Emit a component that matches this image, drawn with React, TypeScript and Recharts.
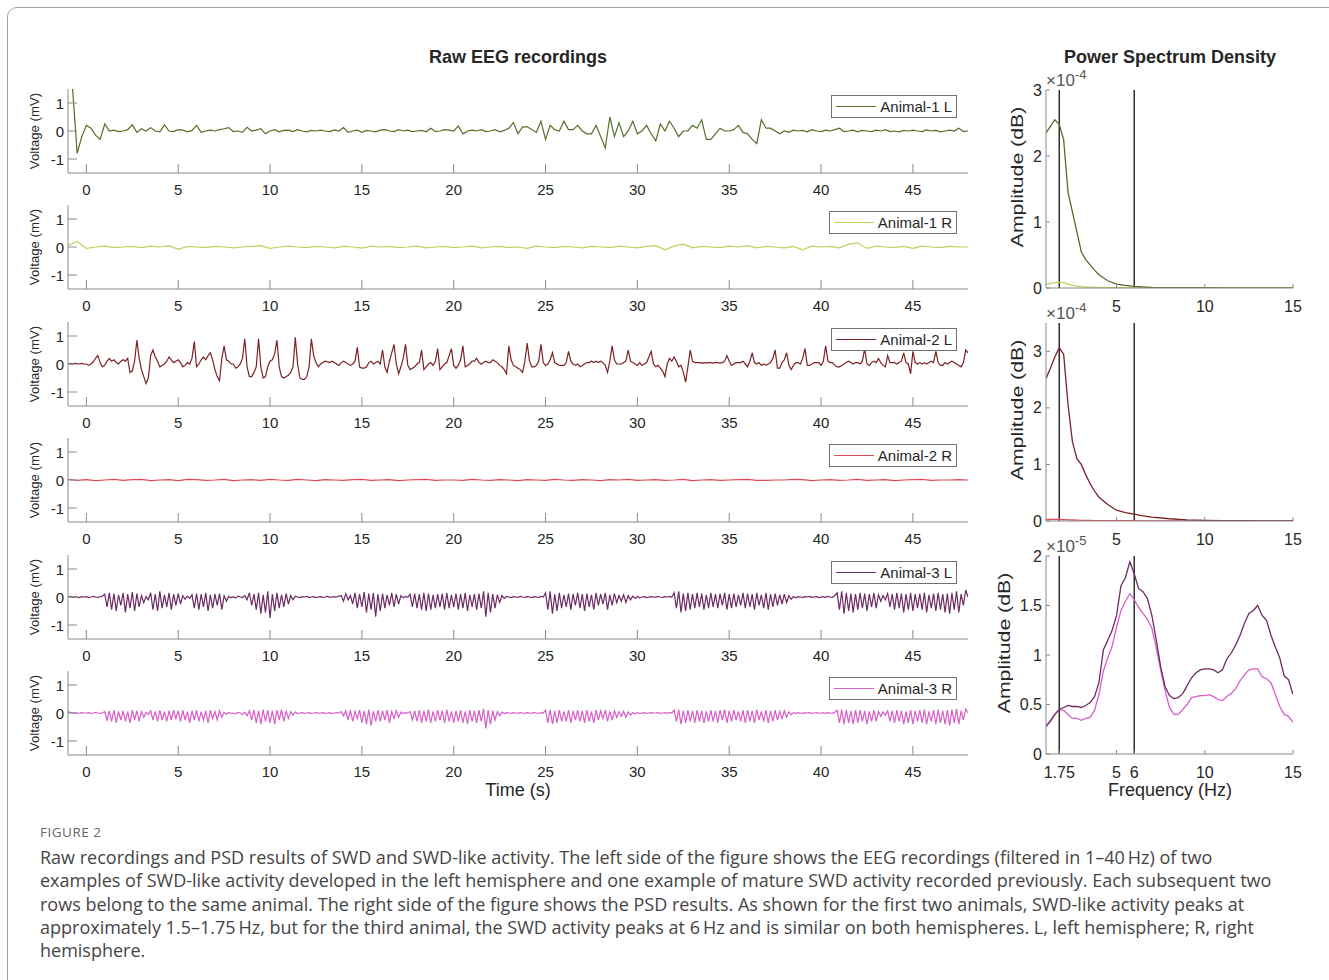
import React from "react";
import { LineChart, Line, XAxis, YAxis, ReferenceLine } from "recharts";

// EEG traces: hundredths of a mV, sampled on a regular grid from t = -1 s
const eegStart = -1;
const eegTicks = [0, 5, 10, 15, 20, 25, 30, 35, 40, 45];
const voltTicks = [-1, 0, 1];

const a1LStep = 0.25;
const a1L = [
  200, 150, -80, -20,
  20, 10, -15, -30,
  25, 0, 3, -2,
  0, 5, 22, -5,
  8, 0, 12, 0,
  -3, 22, 0, -2,
  5, 3, -3, 2,
  20, -5, 0, 3,
  0, 5, 8, 12,
  -2, 0, -5, 13,
  0, 3, 8, -10,
  0, 5, -3, 2,
  3, -2, 5, 0,
  -3, 2, 0, 3,
  0, -2, 4, 0,
  12, -5, 0, 3,
  -5, 2, 0, -3,
  3, 5, 0, -2,
  5, 0, 3, -2,
  0, 2, -3, 10,
  -2, 0, 5, 3,
  0, 18, -10, 0,
  3, 0, 5, -2,
  0, 5, -3, 2,
  10, 30, -10, 15,
  15, 5, -5, 35,
  -30, 20, 5, 0,
  35, 5, 5, 20,
  0, -10, -10, 20,
  -20, -60, 50, -20,
  30, -20, 0, 35,
  -10, 0, 20, -10,
  -35, 25, 0, 35,
  10, -20, 0, 0,
  20, 10, 40, -30,
  -30, -10, 10, 0,
  0, 5, 20, -5,
  -10, -30, -45, 40,
  10, 10, 0, -10,
  0, -5, 3, 0,
  2, -3, 5, 0,
  -2, 3, 0, 5,
  10, -2, 0, 3,
  -3, 2, 0, -2,
  3, 0, 5, -2,
  0, -3, 2, 0,
  3, 0, -2, 4,
  0, 2, -3, 0,
  3, 0, 10, -2,
  0,
];

const a1RStep = 0.5;
const a1R = [
  5, 20, -5, 0, 3, -2, 0, 2, -2, 3,
  0, 5, -8, 2, 0, -2, 2, 0, -3, 0,
  2, 5, -5, 0, 3, 0, -2, 2, 0, -3,
  2, 0, -4, 3, 0, 2, -2, 0, 3, -3,
  0, 2, -2, 0, 3, -3, 0, 2, -2, 0,
  -5, 3, 0, -2, 2, 0, -3, 2, 0, -2,
  3, 0, -3, 2, 5, -10, 3, 10, -3, 2,
  0, -2, 3, 0, 5, -3, 2, 0, -3, 2,
  -10, 3, 0, 2, -3, 10, 15, -5, 3, 0,
  -2, 2, -5, 3, 0, -2, 2, 0, 0,
];

const a2LStep = 0.125;
const a2L = [
  0, 2, 0, 3, 1, 0, 2, 0,
  0, -5, 0, 8, 20, 30, 5, -10,
  -5, 10, 20, 10, 15, 5, 0, 10,
  15, 10, 20, -30, -25, 10, 85, 20,
  -20, -45, -70, -50, 30, 50, 25, 10,
  -10, -5, 0, 10, 25, 15, 5, 10,
  15, 5, -10, -5, 5, 0, 20, 80,
  -10, 0, 15, 25, 15, 30, 40, 15,
  -20, -45, -60, 20, 65, 15, 10, 0,
  0, -15, -10, 0, 20, 90, -10, -45,
  -45, -30, -10, 90, -10, -50, -45, -10,
  10, 15, 35, 85, -10, -45, -50, -45,
  -40, -30, -10, 95, 0, -50, -55, -55,
  -45, -10, 90, 30, 5, -10, 0, 5,
  10, 8, 5, 10, 5, 0, -5, 5,
  10, 5, 0, -5, 0, 10, 60, -10,
  -15, -15, -10, 5, 10, 0, 5, 10,
  0, 50, -10, -30, 10, 40, 70, 0,
  -35, -10, 20, 70, -5, -20, -15, -10,
  0, 5, 50, -20, -10, 0, 5, -5,
  10, 55, -20, -10, 0, 5, 30, 55,
  -5, -15, -5, 15, 65, -10, -5, 0,
  10, 10, 20, 5, 0, 5, 10, 5,
  5, 15, 10, 5, -5, -10, -20, -35,
  65, 15, -5, -10, -15, -20, -30, 10,
  75, 10, -10, -10, -5, 10, 70, 5,
  -5, 0, 15, 40, 5, 0, -5, -5,
  -5, 5, 45, 10, 0, -5, 0, -10,
  -5, 0, 5, 5, 10, 5, 10, 5,
  10, 5, -5, -30, 10, 65, 15, 0,
  0, 0, 5, 10, 50, 10, 5, 0,
  -5, 5, -5, 0, 5, 25, 45, 0,
  -10, -5, -15, -25, -45, 0, 20, 10,
  25, 10, -10, -5, -30, -65, -10, 50,
  10, 5, 5, 5, 3, 5, 3, 5,
  5, 3, 5, 5, 3, 5, 10, 30,
  10, -5, 0, 5, 5, 5, 10, 0,
  -10, 10, 40, 5, 0, 5, -5, 0,
  -5, 0, 5, 20, 50, -15, -15, 5,
  15, 40, -5, -20, -5, 5, 5, 0,
  20, 55, -5, -5, 0, 5, 5, 5,
  -5, 10, 65, 10, 5, 5, -5, -10,
  -10, -5, 0, 5, 10, 5, 0, 5,
  5, 0, 10, 55, 0, -5, 5, 10,
  5, 20, 5, -5, -10, 30, 5, 5,
  5, 0, 5, 10, 40, 5, 0, -35,
  45, 5, 0, 5, 0, 5, 0, 5,
  10, 5, 45, 5, -5, -5, 5, 0,
  5, 10, 5, 0, -5, -10, 5, 50,
  40,
];

const a2RStep = 0.5;
const a2R = [
  2, -1, 1, -2, 0, 2, -1, 1, 2, -2,
  0, 1, -2, 2, 1, -1, 0, 2, -2, 0,
  1, -1, 2, 0, -1, 2, 0, -2, 1, 0,
  -1, 1, 2, -1, 0, 1, -2, 0, 1, 2,
  -1, 0, 0, -1, 2, 0, -1, 1, 0, -2,
  1, 0, -1, 2, 0, -1, 1, 0, -2, 1,
  0, 2, -1, 0, 1, -1, 0, 2, -2, 0,
  1, -1, 0, 1, 2, -1, -1, 0, 0, 2,
  1, -2, 0, 1, -1, 0, 2, -1, 0, 1,
  -2, 0, 1, 2, -1, 0, 0, 1, 0,
];

const a3LStep = 0.125;
const a3L = [
  0, 2, -1, 1, 0, -2, 1, 0,
  1, -1, 0, 2, 0, -1, 1, 3,
  10, -35, 15, -45, 12, -50, 8, -30,
  15, -55, 10, -40, 18, -50, 12, -35,
  5, -20, 2, -10, 15, -45, 10, -50,
  20, -40, 8, -35, 15, -45, 10, -30,
  12, -25, 5, -8, 3, -5, 8, -40,
  12, -45, 10, -35, 15, -50, 8, -40,
  10, -30, 12, -45, 5, -15, 2, -3,
  1, -4, 3, 0, -2, 5, -10, 15,
  -30, 10, -45, 15, -60, 8, -55, 20,
  -75, 10, -50, 15, -40, 8, -35, 12,
  -25, 5, -10, 3, 0, -2, 1, 0,
  2, -1, 0, 1, -2, 0, 1, -1,
  0, 2, -1, 0, 1, 0, 3, 5,
  -15, 12, -10, 5, -25, 15, -40, 10,
  -35, 18, -55, 12, -45, 15, -70, 10,
  -50, 12, -40, 8, -30, 15, -35, 10,
  -25, 5, -3, 2, -1, 10, -35, 12,
  -40, 10, -45, 15, -50, 12, -45, 8,
  -40, 10, -35, 12, -45, 15, -40, 8,
  -35, 12, -45, 10, -40, 15, -50, 8,
  -35, 10, -45, 12, -40, 20, -70, 15,
  -55, 10, -40, 8, -20, 5, -5, 2,
  0, -2, 1, 0, -1, 2, 0, -1,
  1, 0, -2, 1, 0, -1, 2, 0,
  15, -45, 20, -60, 10, -50, 15, -40,
  8, -35, 12, -45, 10, -30, 15, -40,
  10, -50, 12, -35, 8, -45, 15, -30,
  10, -25, 15, -45, 8, -30, 12, -20,
  5, -15, 8, -20, 5, -10, 3, -5,
  2, -3, 0, 1, -2, 0, 1, 0,
  -1, 2, 0, -1, 1, 0, 2, -1,
  15, -40, 20, -55, 12, -50, 15, -45,
  10, -40, 15, -35, 12, -45, 8, -40,
  15, -35, 10, -40, 12, -30, 15, -45,
  10, -40, 12, -35, 8, -30, 15, -40,
  12, -35, 10, -45, 15, -30, 8, -40,
  15, -45, 10, -35, 12, -30, 8, -25,
  10, -20, 5, -8, 2, -3, 1, 0,
  -1, 1, 0, 2, -1, 0, 1, -2,
  0, 1, -1, 2, 0, -1, 5, 15,
  -45, 20, -60, 15, -50, 12, -55, 10,
  -45, 15, -40, 12, -50, 10, -35, 15,
  -40, 8, -15, 5, -10, 12, -35, 10,
  -45, 15, -40, 12, -55, 10, -45, 15,
  -50, 10, -40, 12, -45, 15, -55, 8,
  -40, 12, -50, 15, -45, 10, -55, 12,
  -60, 15, -45, 20, -55, 10, -30, 25,
  0,
];

const a3RStep = 0.125;
const a3R = [
  5, 2, 0, 1, -1, 0, 1, 0,
  0, 1, -1, 0, 2, 0, -1, 1,
  5, -25, 8, -30, 10, -35, 6, -25,
  8, -30, 5, -35, 10, -25, 8, -30,
  5, -15, 2, -5, 8, -25, 6, -30,
  10, -25, 5, -30, 8, -25, 10, -20,
  8, -30, 10, -25, 5, -35, 8, -25,
  10, -30, 5, -25, 8, -35, 10, -20,
  5, -25, 8, -15, 3, -5, 2, -1,
  0, -3, 2, 0, -5, 3, -10, 8,
  -25, 10, -35, 8, -40, 12, -30, 10,
  -35, 8, -40, 10, -25, 12, -30, 8,
  -20, 5, -8, 3, -2, 0, 1, -1,
  0, 1, -1, 0, 2, -1, 0, 1,
  -1, 0, 1, -2, 0, 1, 0, 5,
  -10, 8, -25, 10, -30, 6, -20, 10,
  -35, 8, -40, 12, -45, 6, -30, 10,
  -30, 8, -25, 10, -35, 5, -20, 8,
  -15, 3, -2, 1, 0, 5, -25, 8,
  -30, 10, -35, 8, -30, 12, -35, 6,
  -30, 10, -25, 8, -35, 12, -30, 6,
  -35, 8, -30, 10, -35, 6, -40, 10,
  -30, 8, -35, 10, -30, 15, -55, 10,
  -40, 8, -25, 5, -10, 3, -2, 1,
  0, -1, 1, 0, -1, 2, 0, -1,
  1, 0, -1, 2, 0, -1, 1, 0,
  10, -35, 12, -40, 8, -35, 10, -30,
  6, -30, 10, -35, 8, -25, 10, -30,
  8, -35, 10, -30, 6, -35, 10, -25,
  8, -20, 10, -30, 6, -25, 8, -15,
  5, -12, 6, -15, 4, -8, 2, -3,
  1, -2, 0, 1, -1, 0, 1, 0,
  0, 1, -1, 0, 1, -1, 2, 0,
  10, -30, 12, -40, 8, -35, 10, -30,
  8, -35, 10, -30, 8, -35, 6, -30,
  10, -30, 8, -35, 10, -25, 12, -35,
  8, -30, 10, -25, 6, -30, 10, -35,
  10, -30, 8, -35, 12, -25, 6, -30,
  10, -35, 8, -30, 10, -25, 6, -20,
  8, -15, 4, -6, 2, -2, 1, 0,
  -1, 1, 0, 1, -1, 0, 1, -1,
  0, 1, -1, 1, 0, -1, 3, 10,
  -35, 12, -40, 10, -35, 8, -40, 10,
  -35, 10, -30, 8, -40, 6, -30, 10,
  -30, 6, -12, 4, -8, 8, -30, 8,
  -35, 10, -30, 8, -40, 6, -35, 10,
  -40, 8, -30, 10, -35, 12, -40, 6,
  -30, 10, -40, 12, -35, 8, -40, 10,
  -45, 12, -35, 15, -40, 8, -25, 15,
  0,
];

// Power spectra (display units: x1e-4 for animals 1-2, x1e-5 for animal 3)
const psdFreqA = [1, 1.25, 1.5, 1.75, 2, 2.25, 2.5, 2.75, 3, 3.25, 3.5, 3.75, 4, 4.5, 5, 5.5, 6, 6.5, 7, 8, 9, 10, 11, 12, 13, 14, 15];
const psd1L = [2.35, 2.45, 2.55, 2.48, 2.25, 1.45, 1.15, 0.85, 0.55, 0.43, 0.35, 0.27, 0.2, 0.11, 0.06, 0.04, 0.025, 0.015, 0.01, 0.007, 0.005, 0.004, 0.003, 0.003, 0.002, 0.002, 0.002];
const psd1R = [0.05, 0.07, 0.08, 0.09, 0.08, 0.06, 0.04, 0.03, 0.02, 0.015, 0.012, 0.01, 0.008, 0.006, 0.005, 0.004, 0.003, 0.003, 0.002, 0.002, 0.002, 0.001, 0.001, 0.001, 0.001, 0.001, 0.001];
const psd2L = [2.52, 2.7, 2.9, 3.06, 2.95, 2.05, 1.4, 1.1, 1.0, 0.82, 0.66, 0.53, 0.42, 0.29, 0.19, 0.15, 0.12, 0.09, 0.07, 0.04, 0.02, 0.01, 0.006, 0.004, 0.003, 0.002, 0.002];
const psd2R = [0.03, 0.03, 0.03, 0.03, 0.025, 0.02, 0.018, 0.015, 0.012, 0.01, 0.009, 0.008, 0.007, 0.006, 0.005, 0.004, 0.004, 0.003, 0.003, 0.002, 0.002, 0.002, 0.001, 0.001, 0.001, 0.001, 0.001];

const psdFreqB = [
  1, 1.25, 1.5, 1.75, 2, 2.25, 2.5, 2.75, 3, 3.25, 3.5, 3.75, 4, 4.25, 4.5, 4.75,
  5, 5.25, 5.5, 5.75, 6, 6.25, 6.5, 6.75, 7, 7.25, 7.5, 7.75, 8, 8.25, 8.5, 8.75,
  9, 9.25, 9.5, 9.75, 10, 10.25, 10.5, 10.75, 11, 11.25, 11.5, 11.75, 12, 12.25, 12.5, 12.75,
  13, 13.25, 13.5, 13.75, 14, 14.25, 14.5, 14.75, 15,
];
const psd3L = [
  0.28, 0.33, 0.4, 0.45, 0.47, 0.49, 0.48, 0.48, 0.47, 0.49, 0.52, 0.58, 0.72, 1.05, 1.15, 1.25,
  1.4, 1.7, 1.78, 1.94, 1.82, 1.67, 1.64, 1.57, 1.4, 1.15, 0.88, 0.68, 0.59, 0.56, 0.57, 0.61,
  0.69, 0.77, 0.82, 0.85, 0.86, 0.86, 0.85, 0.82, 0.85, 0.96, 1.02, 1.1, 1.2, 1.32, 1.42, 1.45,
  1.5, 1.4, 1.35, 1.2, 1.08, 0.97, 0.79, 0.75, 0.6,
];
const psd3R = [
  0.28, 0.34, 0.4, 0.45, 0.44, 0.4, 0.36, 0.36, 0.34, 0.36, 0.37, 0.44, 0.6, 0.84, 0.97, 1.09,
  1.28, 1.45, 1.54, 1.62, 1.56, 1.48, 1.42, 1.36, 1.27, 1.07, 0.85, 0.64, 0.47, 0.4, 0.4, 0.45,
  0.5, 0.57, 0.58, 0.59, 0.59, 0.6, 0.58, 0.55, 0.54, 0.58, 0.61, 0.66, 0.74, 0.8, 0.85, 0.86,
  0.86, 0.78, 0.76, 0.72, 0.6, 0.48, 0.4, 0.38, 0.32,
];
const markerFreqs = [1.75, 6];

const captionLines = [
  "Raw recordings and PSD results of SWD and SWD-like activity. The left side of the figure shows the EEG recordings (filtered in 1\u201340\u2009Hz) of two",
  "examples of SWD-like activity developed in the left hemisphere and one example of mature SWD activity recorded previously. Each subsequent two",
  "rows belong to the same animal. The right side of the figure shows the PSD results. As shown for the first two animals, SWD-like activity peaks at",
  "approximately 1.5\u20131.75\u2009Hz, but for the third animal, the SWD activity peaks at 6\u2009Hz and is similar on both hemispheres. L, left hemisphere; R, right",
  "hemisphere.",
];

const C = {
  a1L: "#566d2c",
  a1R: "#b9d45a",
  a2L: "#7b2226",
  a2R: "#e04a52",
  a3L: "#6d2b63",
  a3R: "#d65fc9",
};

const eegPanels = [
  { name: "Animal-1 L", color: C.a1L, step: a1LStep, values: a1L },
  { name: "Animal-1 R", color: C.a1R, step: a1RStep, values: a1R },
  { name: "Animal-2 L", color: C.a2L, step: a2LStep, values: a2L },
  { name: "Animal-2 R", color: C.a2R, step: a2RStep, values: a2R },
  { name: "Animal-3 L", color: C.a3L, step: a3LStep, values: a3L },
  { name: "Animal-3 R", color: C.a3R, step: a3RStep, values: a3R },
];

const psdPanels = [
  { freq: psdFreqA, l: psd1L, r: psd1R, cl: C.a1L, cr: C.a1R, ymax: 3, yticks: [0, 1, 2, 3], xticks: [5, 10, 15], exp: "-4", labelX: 27 },
  { freq: psdFreqA, l: psd2L, r: psd2R, cl: C.a2L, cr: C.a2R, ymax: 3.5, yticks: [0, 1, 2, 3], xticks: [5, 10, 15], exp: "-4", labelX: 27 },
  { freq: psdFreqB, l: psd3L, r: psd3R, cl: C.a3L, cr: C.a3R, ymax: 2, yticks: [0, 0.5, 1, 1.5, 2], xticks: [1.75, 5, 6, 10, 15], exp: "-5", labelX: 14 },
];

const FONT = "'Liberation Sans', Arial, Helvetica, sans-serif";
const INK = "#262626";
const AXIS = "#8a8a8a";

// ticks point inward like MATLAB's
const xTick = (len: number, off: number, fs: number) => (p: any) => (
  <g>
    <line x1={p.x} y1={p.y} x2={p.x} y2={p.y - len} stroke={AXIS} />
    <text x={p.x} y={p.y + off} textAnchor="middle" dominantBaseline="central" fontSize={fs} fill={INK} fontFamily={FONT}>
      {p.payload.value}
    </text>
  </g>
);
const yTick = (len: number, fs: number) => (p: any) => (
  <g>
    <line x1={p.x} y1={p.y} x2={p.x + len} y2={p.y} stroke={AXIS} />
    <text x={p.x - 4} y={p.y} textAnchor="end" dominantBaseline="central" fontSize={fs} fill={INK} fontFamily={FONT}>
      {p.payload.value}
    </text>
  </g>
);
// rotated axis title; stretch > 1 lengthens it the way the source figure is stretched vertically
const yLabel = (text: string, dx: number, dy: number, fs: number, stretch = 1) => (p: any) => {
  const vb = p.viewBox;
  const cx = vb.x + dx;
  const cy = vb.y + vb.height / 2 + dy;
  return (
    <text
      x={0}
      y={0}
      transform={`translate(${cx} ${cy}) rotate(-90) scale(${stretch} 1)`}
      textAnchor="middle"
      dominantBaseline="central"
      fontSize={fs}
      fill={INK}
      fontFamily={FONT}
    >
      {text}
    </text>
  );
};

const eegZero = [131, 247.4, 363.8, 480.2, 596.6, 713];

function EegPanel({ panel, zeroY }: { panel: (typeof eegPanels)[number]; zeroY: number }) {
  const rows = panel.values.map((v, i) => ({ t: eegStart + i * panel.step, v: v / 100 }));
  return (
    <>
      <div style={{ position: "absolute", left: 20, top: zeroY - 42 - 10 }}>
        <LineChart width={960} height={130} data={rows} margin={{ top: 10, right: 12, bottom: 0, left: 0 }}>
          <XAxis
            dataKey="t"
            type="number"
            domain={[-1, 48]}
            ticks={eegTicks}
            interval={0}
            allowDataOverflow
            height={36}
            tickSize={0}
            tickMargin={0}
            tickLine={false}
            axisLine={{ stroke: AXIS }}
            tick={xTick(9, 16, 15)}
          />
          <YAxis
            type="number"
            domain={[-1.5, 1.5]}
            ticks={voltTicks}
            interval={0}
            allowDataOverflow
            width={48}
            tickSize={0}
            tickMargin={0}
            tickLine={false}
            axisLine={{ stroke: AXIS }}
            tick={yTick(9, 15)}
            label={yLabel("Voltage (mV)", 15, 0, 12, 1.1)}
          />
          <Line type="linear" dataKey="v" stroke={panel.color} strokeWidth={1.2} dot={false} isAnimationActive={false} />
        </LineChart>
      </div>
      <div
        style={{
          position: "absolute",
          right: 1329 - 957,
          top: zeroY - 36,
          height: 21,
          display: "flex",
          alignItems: "center",
          border: "1px solid #707070",
          background: "#fff",
          padding: "0 4px 0 4px",
          fontSize: 15,
          color: INK,
        }}
      >
        <span style={{ display: "inline-block", width: 40, borderTop: `1.3px solid ${panel.color}`, marginRight: 4 }} />
        {panel.name}
      </div>
    </>
  );
}

function PsdPanel({ panel, top }: { panel: (typeof psdPanels)[number]; top: number }) {
  const rows = panel.freq.map((f, i) => ({ f, l: panel.l[i], r: panel.r[i] }));
  return (
    <>
      <div style={{ position: "absolute", left: 990, top: top - 10 }}>
        <LineChart width={319} height={248} data={rows} margin={{ top: 10, right: 16, bottom: 0, left: 0 }}>
          <XAxis
            dataKey="f"
            type="number"
            domain={[1, 15]}
            ticks={panel.xticks}
            interval={0}
            allowDataOverflow
            height={40}
            tickSize={0}
            tickMargin={0}
            tickLine={false}
            axisLine={{ stroke: AXIS }}
            tick={xTick(4, 18, 16)}
          />
          <YAxis
            type="number"
            domain={[0, panel.ymax]}
            ticks={panel.yticks}
            interval={0}
            allowDataOverflow
            width={56}
            tickSize={0}
            tickMargin={0}
            tickLine={false}
            axisLine={{ stroke: AXIS }}
            tick={yTick(4, 16)}
            label={yLabel("Amplitude (dB)", panel.labelX, -12, 17, 1.25)}
          />
          {markerFreqs.map((f) => (
            <ReferenceLine key={f} x={f} stroke="#111" strokeWidth={1.3} />
          ))}
          <Line type="linear" dataKey="r" stroke={panel.cr} strokeWidth={1.3} dot={false} isAnimationActive={false} />
          <Line type="linear" dataKey="l" stroke={panel.cl} strokeWidth={1.3} dot={false} isAnimationActive={false} />
        </LineChart>
      </div>
      <div style={{ position: "absolute", left: 1046, top: top - 18, fontSize: 17, color: "#555", lineHeight: "18px" }}>
        {"\u00d710"}
        <sup style={{ fontSize: 13, verticalAlign: 7, lineHeight: 0 }}>{panel.exp}</sup>
      </div>
    </>
  );
}

export default function App() {
  const centerText = (text: string, cx: number, cy: number, fs: number, bold = false) => (
    <div
      style={{
        position: "absolute",
        left: cx - 300,
        width: 600,
        top: cy - fs * 0.6,
        textAlign: "center",
        fontSize: fs,
        fontWeight: bold ? 700 : 400,
        lineHeight: `${fs * 1.2}px`,
        color: INK,
      }}
    >
      {text}
    </div>
  );
  return (
    <div
      style={{
        position: "absolute",
        left: 0,
        top: 0,
        width: 1329,
        height: 980,
        overflow: "hidden",
        background: "#fff",
        fontFamily: FONT,
      }}
    >
      <div style={{ position: "absolute", left: 7, top: 7, width: 1400, height: 1100, border: "1px solid #a0a0a0", borderRadius: 10 }} />
      {centerText("Raw EEG recordings", 518, 58, 18, true)}
      {centerText("Power Spectrum Density", 1170, 58, 18, true)}
      {eegPanels.map((p, i) => (
        <EegPanel key={p.name} panel={p} zeroY={eegZero[i]} />
      ))}
      {psdPanels.map((p, i) => (
        <PsdPanel key={i} panel={p} top={90 + i * 233} />
      ))}
      {centerText("Time (s)", 518, 791, 18)}
      {centerText("Frequency (Hz)", 1170, 791, 18)}
      <div
        style={{
          position: "absolute",
          left: 40,
          top: 823,
          fontFamily: "'Open Sans', 'Noto Sans', sans-serif",
          fontSize: 13.5,
          letterSpacing: 0.5,
          color: "#666",
        }}
      >
        FIGURE 2
      </div>
      {captionLines.map((line, i) => (
        <div
          key={i}
          style={{
            position: "absolute",
            left: 40,
            top: 845 + i * 23.3,
            whiteSpace: "nowrap",
            fontFamily: "'Open Sans', 'Noto Sans', sans-serif",
            fontSize: 18,
            lineHeight: "24px",
            color: "#454545",
          }}
        >
          {line}
        </div>
      ))}
    </div>
  );
}
